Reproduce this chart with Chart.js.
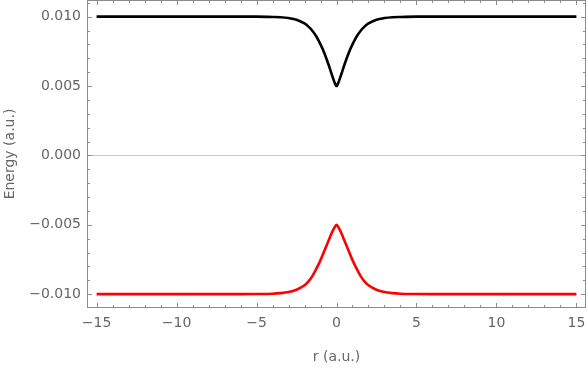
<!DOCTYPE html>
<html>
<head>
<meta charset="utf-8">
<script src="https://cdn.jsdelivr.net/npm/chart.js@4.4.1/dist/chart.umd.min.js"></script>
<style>
  html, body { margin: 0; padding: 0; background: #fff; }
  #wrap { width: 588px; height: 368px; }
</style>
</head>
<body>
<div id="wrap"><canvas id="energyChart"></canvas></div>
<script>
// r values (a.u.) sampled along the curves
const rVals = [-15, -12, -9, -6, -5, -4, -3.5, -3, -2.5, -2, -1.75, -1.5, -1.25, -1, -0.75, -0.5, -0.3, -0.15, 0,
  0.15, 0.3, 0.5, 0.75, 1, 1.25, 1.5, 1.75, 2, 2.5, 3, 3.5, 4, 5, 6, 9, 12, 15];

// upper (black) branch
const upperE = [0.0100, 0.0100, 0.0100, 0.0100, 0.01000, 0.00998, 0.00996, 0.00990, 0.00978, 0.00951, 0.00928, 0.00897,
  0.00855, 0.00800, 0.00735, 0.00655, 0.00585, 0.00535, 0.00500,
  0.00535, 0.00585, 0.00655, 0.00735, 0.00800, 0.00855, 0.00897, 0.00928, 0.00951, 0.00978, 0.00990, 0.00996, 0.00998,
  0.01000, 0.0100, 0.0100, 0.0100, 0.0100];

// lower (red) branch
const lowerE = [-0.0100, -0.0100, -0.0100, -0.0100, -0.00999, -0.00997, -0.00993, -0.00985, -0.00968, -0.00936, -0.00908,
  -0.00868, -0.00815, -0.00755, -0.00685, -0.00615, -0.00560, -0.00525, -0.00500,
  -0.00525, -0.00560, -0.00615, -0.00685, -0.00755, -0.00815, -0.00868, -0.00908, -0.00936, -0.00968, -0.00985, -0.00993,
  -0.00997, -0.00999, -0.0100, -0.0100, -0.0100, -0.0100];

// tick marks
const xTicks = [-15, -10, -5, 0, 5, 10, 15];
const xMinor = [-15, -14, -13, -12, -11, -10, -9, -8, -7, -6, -5, -4, -3, -2, -1, 0, 1, 2, 3, 4, 5, 6, 7, 8, 9, 10, 11, 12, 13, 14, 15];
const yTicks = [-0.010, -0.005, 0.000, 0.005, 0.010];
const yMinor = [-0.010, -0.009, -0.008, -0.007, -0.006, -0.005, -0.004, -0.003, -0.002, -0.001, 0, 0.001, 0.002, 0.003, 0.004,
  0.005, 0.006, 0.007, 0.008, 0.009, 0.010, 0.011];

const frameColor = '#8c8c8c';
const labelFont = { family: 'DejaVu Sans', size: 14 };

function pts(ys) {
  return rVals.map((r, i) => ({ x: r, y: ys[i] }));
}

function minusify(s) {
  return s.replace('-', '\u2212');
}

// frame with inward ticks on all four sides, plus the zero line
const framePlugin = {
  id: 'frame',
  beforeDatasetsDraw(chart) {
    const { ctx, chartArea: a, scales: { y } } = chart;
    const y0 = y.getPixelForValue(0);
    ctx.save();
    ctx.strokeStyle = '#c8c8c8';
    ctx.lineWidth = 1;
    ctx.beginPath();
    ctx.moveTo(a.left, Math.round(y0) + 0.5);
    ctx.lineTo(a.right, Math.round(y0) + 0.5);
    ctx.stroke();
    ctx.restore();
  },
  afterDatasetsDraw(chart) {
    const { ctx, chartArea: a, scales: { x, y } } = chart;
    ctx.save();
    ctx.strokeStyle = frameColor;
    ctx.lineWidth = 1;
    ctx.strokeRect(a.left + 0.5, a.top + 0.5, a.right - a.left - 1, a.bottom - a.top - 1);
    ctx.beginPath();
    xMinor.forEach(v => {
      const px = Math.round(x.getPixelForValue(v)) + 0.5;
      const len = xTicks.includes(v) ? 5 : 3;
      ctx.moveTo(px, a.bottom); ctx.lineTo(px, a.bottom - len);
      ctx.moveTo(px, a.top); ctx.lineTo(px, a.top + len);
    });
    yMinor.forEach(v => {
      const py = Math.round(y.getPixelForValue(v)) + 0.5;
      const len = yTicks.some(t => Math.abs(t - v) < 1e-9) ? 5 : 3;
      ctx.moveTo(a.left, py); ctx.lineTo(a.left + len, py);
      ctx.moveTo(a.right, py); ctx.lineTo(a.right - len, py);
    });
    ctx.stroke();
    ctx.restore();
  }
};

new Chart('energyChart', {
  type: 'line',
  data: {
    datasets: [
      { data: pts(upperE), borderColor: '#000000', borderWidth: 2.6, pointRadius: 0, cubicInterpolationMode: 'monotone' },
      { data: pts(lowerE), borderColor: '#ff0000', borderWidth: 2.6, pointRadius: 0, cubicInterpolationMode: 'monotone' }
    ]
  },
  options: {
    responsive: true,
    maintainAspectRatio: false,
    animation: false,
    layout: { padding: { top: 0, right: 2, left: 0, bottom: 0 } },
    plugins: { legend: { display: false }, tooltip: { enabled: false } },
    scales: {
      x: {
        type: 'linear',
        min: -15.6,
        max: 15.6,
        afterBuildTicks: s => { s.ticks = xTicks.map(v => ({ value: v })); },
        afterFit: s => { s.height = 60; s.paddingLeft = 0; s.paddingRight = 0; },
        grid: { display: false, drawTicks: false },
        border: { display: false },
        ticks: { color: '#666', font: labelFont, padding: 7, maxRotation: 0, callback: v => minusify(String(v)) },
        title: { display: true, text: 'r (a.u.)', color: '#666', font: labelFont, padding: { top: 0, bottom: 2 } }
      },
      y: {
        min: -0.011,
        max: 0.0112,
        afterBuildTicks: s => { s.ticks = yTicks.map(v => ({ value: v })); },
        afterFit: s => { s.width = 87; s.paddingTop = 0; s.paddingBottom = 0; },
        grid: { display: false, drawTicks: false },
        border: { display: false },
        ticks: { color: '#666', font: labelFont, padding: 6, callback: v => minusify(v.toFixed(3)) },
        title: { display: true, text: 'Energy (a.u.)', color: '#666', font: labelFont, padding: { top: 2, bottom: 0 } }
      }
    }
  },
  plugins: [framePlugin]
});
</script>
</body>
</html>
